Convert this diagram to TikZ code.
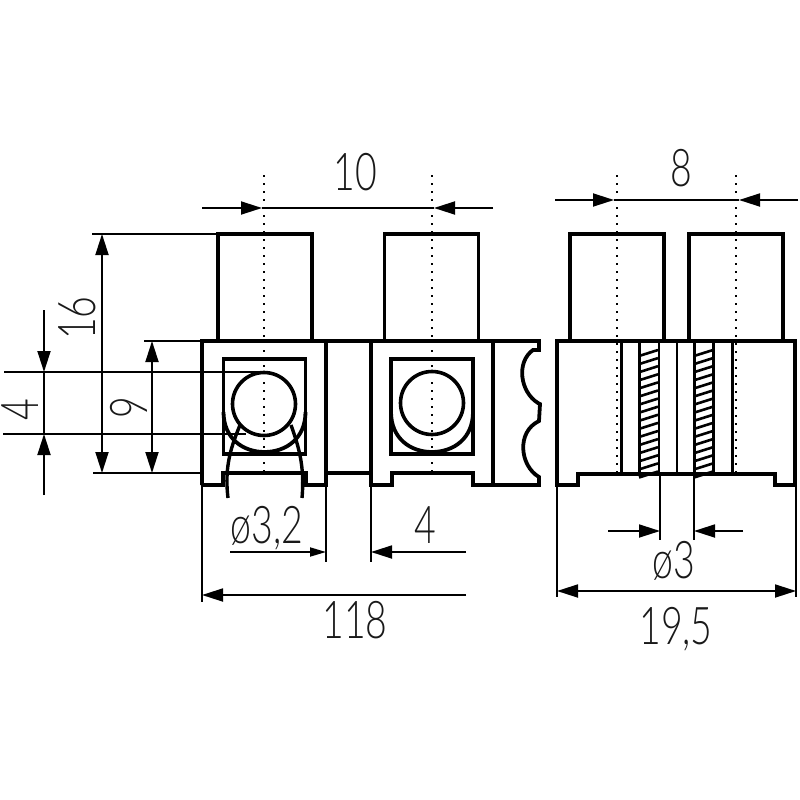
\documentclass[tikz,border=0pt]{standalone}
\usepackage{fontspec}
\setmainfont{Lato Light}
\usetikzlibrary{arrows.meta}
\tikzset{
  bodyline/.style={line width=3.8pt,line join=miter},
  wireline/.style={line width=3.4pt},
  thinline/.style={line width=1.8pt},
  dimline/.style={line width=1.8pt,>={Triangle[length=21pt,width=13pt]}},
  dotline/.style={line width=2.4pt,dash pattern=on 2.4pt off 5.6pt},
  dotsparse/.style={line width=2.4pt,dash pattern=on 2.4pt off 12.6pt},
  tower/.style={draw,line width=3.8pt,minimum width=94pt,minimum height=107pt,inner sep=0pt},
  socket/.style={draw,line width=3.4pt,minimum width=82pt,minimum height=95pt,inner sep=0pt},
  hole/.style={draw,circle,line width=3.6pt,minimum size=63pt,inner sep=0pt},
  dimlabel/.style={font=\fontsize{52}{52}\selectfont,xscale=.72,transform shape,anchor=base,inner sep=0pt,text=black!90},
}
\begin{document}
\begin{tikzpicture}[x=1pt,y=-1pt]
    \useasboundingbox (0,0) rectangle (800,800);

    \node[tower] (towera) at (265,287.5) {};
    \node[tower] (towerb) at (431.5,287.5) {};
    \node[tower] (towerc) at (617,287.5) {};
    \node[tower] (towerd) at (736,287.5) {};

    \node[socket] (socketa) at (264.5,406.5) {};
    \node[socket] (socketb) at (432,406.5) {};
    \node[hole] (holea) at (264,404) {};
    \node[hole] (holeb) at (432,403) {};

    % front view
    \draw[bodyline] (202,485)--(202,341)--(539,341)--(539,350)--(533,350)
      .. controls (516,362) and (520,392) .. (538,403)--(540,404)--(539,421)
      .. controls (516,432) and (520,466) .. (539,477)--(539,485)--(473,485)--(473,473)
      --(392,473)--(392,485)--(371,485)--(371,341);
    \draw[bodyline] (202,485)--(223,485)--(223,473)--(306,473)--(306,485)--(326,485)--(326,341);
    \draw[bodyline] (326,473)--(371,473);
    \draw[bodyline] (493,341)--(493,485);
    \foreach \cx in {264.5,432}
      \draw[bodyline] (\cx-41,412) .. controls (\cx-41,438) and (\cx-22,452) .. (\cx,452)
        .. controls (\cx+22,452) and (\cx+41,438) .. (\cx+41,412);
    \draw[wireline] (240,425) .. controls (232,445) and (224,465) .. (228,498);
    \draw[wireline] (291,425) .. controls (298,445) and (305,465) .. (302,498);

    % side view
    \draw[bodyline] (557,485)--(557,341)--(795,341)--(795,485)--(775,485)--(775,474)--(578,474)--(578,485)--cycle;
    \foreach \lx in {621,639,713,732}
      \draw[line width=3pt] (\lx,341)--(\lx,474);
    \draw[line width=2.6pt] (677,341)--(677,474);
    \draw[thinline] (659,341)--(659,474);
    \draw[line width=3pt] (694,341)--(694,474);
    \foreach \hx in {639,694}
      \foreach \hy in {0,...,15}
        \draw[line width=2.6pt] (\hx,{356+\hy*8.1})--(\hx+19,{350+\hy*8.1});

    % centre marks
    \foreach \dx in {264,432} {
      \draw[dotline] (\dx,175)--(\dx,338);
      \draw[dotsparse] (\dx,350)--(\dx,370);
      \draw[dotline] (\dx,382)--(\dx,472);
    }
    \foreach \dx in {617,736}
      \draw[dotline] (\dx,175)--(\dx,472);

    % extension lines
    \draw[thinline] (92,234)--(218,234);
    \draw[thinline] (144,341)--(202,341);
    \draw[thinline] (93,473)--(202,473);
    \draw[thinline] (4,372)--(258,372);
    \draw[thinline] (3,434)--(246,434);
    \draw[thinline] (202,485)--(202,602);
    \draw[thinline] (326,485)--(326,562);
    \draw[thinline] (371,485)--(371,562);
    \draw[thinline] (660,474)--(660,540);
    \draw[thinline] (694,474)--(694,540);
    \draw[thinline] (557,485)--(557,597);
    \draw[thinline] (796,485)--(796,597);

    % dimensions
    \draw[dimline,->] (202,208)--(262,208);
    \draw[dimline,->] (493,208)--(434,208);
    \draw[dimline] (262,208)--(434,208);
    \draw[dimline,->] (555,200)--(614,200);
    \draw[dimline,->] (798,200)--(739,200);
    \draw[dimline] (614,200)--(739,200);
    \draw[dimline,<->] (102,234)--(102,473);
    \draw[dimline,<->] (152,341)--(152,473);
    \draw[dimline,->] (44,310)--(44,372);
    \draw[dimline,->] (44,495)--(44,434);
    \draw[dimline] (44,372)--(44,434);
    \draw[line width=1.8pt,-{Triangle[length=16pt,width=9pt]}] (230,552)--(326,552);
    \draw[dimline,->] (466,552)--(371,552);
    \draw[dimline,->] (466,595)--(202,595);
    \draw[dimline,->] (608,531)--(660,531);
    \draw[dimline,->] (743,531)--(694,531);
    \draw[dimline,<->] (557,591)--(796,591);

    \node[dimlabel] (dimten) at (355,190) {10};
    \node[dimlabel] (dimeight) at (681,186) {8};
    \node[rotate=90,dimlabel] (dimsixteen) at (95,318) {16};
    \node[rotate=90,dimlabel] (dimnine) at (147,408) {9};
    \node[rotate=90,dimlabel] (dimfour) at (38,410) {4};
    \node[dimlabel] (dimhole) at (267,543) {ø3,2};
    \node[dimlabel] (dimgap) at (425,543) {4};
    \node[dimlabel] (dimtotal) at (355,638) {118};
    \node[dimlabel] (dimscrew) at (674,578) {ø3};
    \node[dimlabel] (dimwidth) at (676,644) {19,5};
\end{tikzpicture}
\end{document}
